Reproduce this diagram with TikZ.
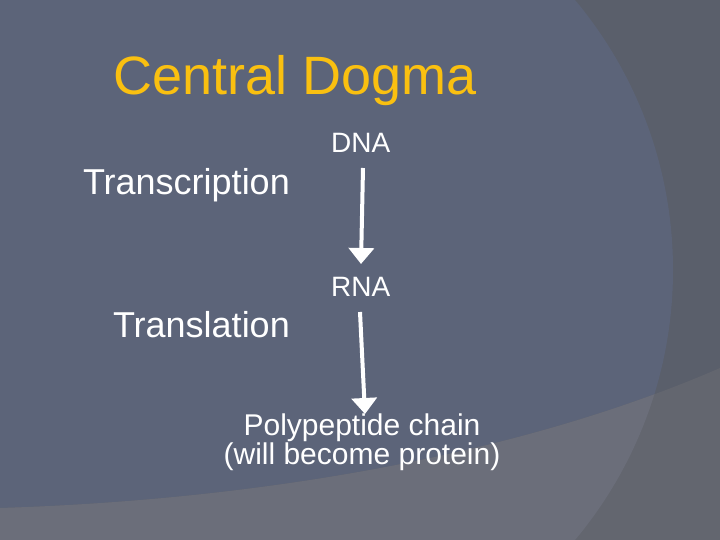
\documentclass[tikz,border=0pt]{standalone}
\usepackage{fontspec}
\setmainfont{Liberation Sans}
\usetikzlibrary{positioning,arrows.meta}
\definecolor{slidebg}{RGB}{90,95,107}
\definecolor{discol}{RGB}{92,100,121}
\definecolor{bandout}{RGB}{99,102,111}
\definecolor{bandin}{RGB}{107,110,122}
\definecolor{titlecol}{RGB}{250,192,16}
\tikzset{
  flow/.style={draw=white, line width=4pt, -{Triangle[width=25pt,length=16pt]}},
  lbl/.style={text=white, inner sep=0pt}
}

\begin{document}
\begin{tikzpicture}[x=1pt, y=-1pt, every node/.style={font=\fontsize{28}{32}\selectfont}]
      % background
      \useasboundingbox (0,0) rectangle (720,540);
      \fill[slidebg] (0,0) rectangle (720,540);
      \begin{scope}
        \clip (0,0) rectangle (720,540);
        \fill[discol] (252,270) circle[radius=421];
        \fill[bandout] (0,508) .. controls (260,500) and (520,455) .. (720,368) -- (720,540) -- (0,540) -- cycle;
        \clip (252,270) circle[radius=421];
        \fill[bandin] (0,508) .. controls (260,500) and (520,455) .. (720,368) -- (720,540) -- (0,540) -- cycle;
      \end{scope}
      % text
      \node[inner sep=0pt, text=titlecol, anchor=base west, font=\fontsize{54}{60}\selectfont] (title) at (113,95) {Central Dogma};
      \node[lbl, anchor=base east, font=\fontsize{36}{40}\selectfont] (tscr) at (290,195) {Transcription};
      \node[lbl, anchor=base east, font=\fontsize{36}{40}\selectfont] (tsl)  at (290,337) {Translation};
      \node[lbl, anchor=base west] (dna) at (331,153) {DNA};
      \node[lbl, anchor=base west] (rna) at (331,296) {RNA};
      \node[lbl, anchor=base, align=center, font=\fontsize{30}{21}\selectfont] (poly) at (362,464)
        {Polypeptide chain\\(will become protein)};
      % arrows
      \coordinate (d1) at (363,168);
      \coordinate (r1) at (361,264);
      \coordinate (d2) at (360,312);
      \coordinate (r2) at (365,414);
      \draw[flow] (d1) -- (r1);
      \draw[flow] (d2) -- (r2);
    \end{tikzpicture}
\end{document}
